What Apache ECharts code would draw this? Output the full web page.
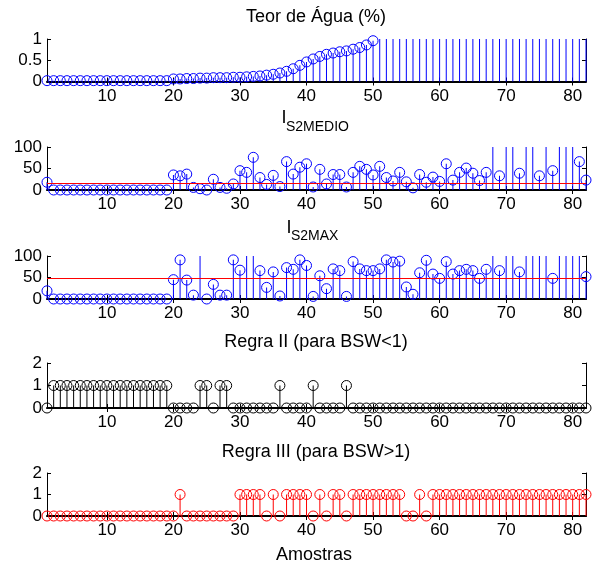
<!DOCTYPE html>
<html>
<head>
<meta charset="utf-8">
<script src="https://cdn.jsdelivr.net/npm/echarts@6/dist/echarts.min.js"></script>
<style>
  html, body { margin: 0; background: #fff; }
  #chart { width: 592px; height: 564px; }
</style>
</head>
<body>
<div id="chart"></div>
<script>
// amostras 1..82
var amostras = [];
for (var i = 1; i <= 82; i++) amostras.push(i);

var xTicks = [10, 20, 30, 40, 50, 60, 70, 80];

// Teor de Agua (%) - acima de 50 fora da escala
var teorAgua = [
  0.02, 0.02, 0.02, 0.02, 0.02, 0.02, 0.02, 0.02, 0.02, 0.02,
  0.02, 0.02, 0.02, 0.02, 0.02, 0.02, 0.02, 0.02, 0.02, 0.06,
  0.06, 0.07, 0.07, 0.08, 0.08, 0.09, 0.09, 0.09, 0.10, 0.10,
  0.11, 0.12, 0.13, 0.15, 0.17, 0.20, 0.24, 0.30, 0.38, 0.46,
  0.53, 0.59, 0.64, 0.67, 0.70, 0.72, 0.76, 0.80, 0.86, 0.96,
  2, 2, 2, 2, 2, 2, 2, 2, 2, 2,
  2, 2, 2, 2, 2, 2, 2, 2, 2, 2,
  2, 2, 2, 2, 2, 2, 2, 2, 2, 2,
  2, 2
];

var s2Medio = [
  18, 0, 0, 0, 0, 0, 0, 0, 0, 0,
  0, 0, 0, 0, 0, 0, 0, 0, 0, 35,
  33, 37, 6, 3, 0, 25, 6, 4, 14, 45,
  41, 76, 29, 13, 34, 8, 66, 37, 53, 61,
  7, 48, 14, 36, 36, 7, 41, 55, 48, 35,
  55, 29, 21, 41, 19, 5, 36, 18, 30, 20,
  61, 23, 41, 51, 39, 22, 41, 150, 33, 150,
  150, 39, 150, 150, 33, 150, 45, 150, 150, 150,
  66, 23
];
var limMedio = 15;

var s2Max = [
  19, 0, 0, 0, 0, 0, 0, 0, 0, 0,
  0, 0, 0, 0, 0, 0, 0, 0, 0, 45,
  91, 44, 9, 150, 0, 34, 9, 9, 91, 67,
  150, 150, 66, 27, 63, 7, 73, 69, 91, 78,
  6, 54, 24, 70, 66, 6, 87, 70, 66, 66,
  70, 91, 86, 88, 28, 11, 61, 90, 58, 48,
  87, 58, 66, 69, 66, 48, 69, 150, 66, 150,
  150, 63, 150, 150, 150, 150, 48, 150, 150, 150,
  150, 52
];
var limMax = 48;

var regra2 = [
  0, 1, 1, 1, 1, 1, 1, 1, 1, 1,
  1, 1, 1, 1, 1, 1, 1, 1, 1, 0,
  0, 0, 0, 1, 1, 0, 1, 1, 0, 0,
  0, 0, 0, 0, 0, 1, 0, 0, 0, 0,
  1, 0, 0, 0, 0, 1, 0, 0, 0, 0,
  0, 0, 0, 0, 0, 0, 0, 0, 0, 0,
  0, 0, 0, 0, 0, 0, 0, 0, 0, 0,
  0, 0, 0, 0, 0, 0, 0, 0, 0, 0,
  0, 0
];

var regra3 = [
  0, 0, 0, 0, 0, 0, 0, 0, 0, 0,
  0, 0, 0, 0, 0, 0, 0, 0, 0, 0,
  1, 0, 0, 0, 0, 0, 0, 0, 0, 1,
  1, 1, 1, 0, 1, 0, 1, 1, 1, 1,
  0, 1, 0, 1, 1, 0, 1, 1, 1, 1,
  1, 1, 1, 1, 0, 0, 1, 0, 1, 1,
  1, 1, 1, 1, 1, 1, 1, 1, 1, 1,
  1, 1, 1, 1, 1, 1, 1, 1, 1, 1,
  1, 1
];

var FONT = '"Liberation Sans", Arial, Helvetica, sans-serif';

var panels = [
  { y: teorAgua, max: 1, step: 0.5, color: '#0000ff', top: 39, h: 42.5, lim: null },
  { y: s2Medio, max: 100, step: 50, color: '#0000ff', top: 147, h: 43, lim: limMedio },
  { y: s2Max, max: 100, step: 50, color: '#0000ff', top: 256, h: 43, lim: limMax },
  { y: regra2, max: 2, step: 1, color: '#000000', top: 363, h: 45, lim: null },
  { y: regra3, max: 2, step: 1, color: '#ff0000', top: 473, h: 43, lim: null }
];

var grids = [], xAxes = [], yAxes = [], series = [];

panels.forEach(function (p, k) {
  grids.push({ left: 47, width: 539, top: p.top, height: p.h });

  // bottom and top x axes
  xAxes.push({
    type: 'value', gridIndex: k, min: 1, max: 82, position: 'bottom',
    axisLine: { onZero: false, lineStyle: { color: '#000', width: 2 } },
    axisTick: { inside: true, length: 4, customValues: xTicks, lineStyle: { color: '#000' } },
    axisLabel: { customValues: xTicks, color: '#000', fontSize: 17, fontFamily: FONT, margin: 6 },
    splitLine: { show: false }
  });
  xAxes.push({
    type: 'value', gridIndex: k, min: 1, max: 82, position: 'top',
    axisLine: { lineStyle: { color: '#000', width: 1 } },
    axisTick: { inside: true, length: 4, customValues: xTicks, lineStyle: { color: '#000' } },
    axisLabel: { show: false },
    splitLine: { show: false }
  });
  yAxes.push({
    type: 'value', gridIndex: k, min: 0, max: p.max, interval: p.step, position: 'left',
    axisLine: { show: true, onZero: false, lineStyle: { color: '#000' } },
    axisTick: { inside: true, length: 4, lineStyle: { color: '#000' } },
    axisLabel: { color: '#000', fontSize: 17, fontFamily: FONT, margin: 5 },
    splitLine: { show: false }
  });
  yAxes.push({
    type: 'value', gridIndex: k, min: 0, max: p.max, interval: p.step, position: 'right',
    axisLine: { show: true, onZero: false, lineStyle: { color: '#000' } },
    axisTick: { inside: true, length: 4, lineStyle: { color: '#000' } },
    axisLabel: { show: false },
    splitLine: { show: false }
  });

  var pts = amostras.map(function (x, j) { return [x, p.y[j]]; });

  // hastes
  series.push({
    type: 'bar', xAxisIndex: 2 * k, yAxisIndex: 2 * k,
    data: pts, barWidth: 1, clip: true, silent: true,
    itemStyle: { color: p.color }
  });
  // marcadores (fora da escala nao aparecem)
  var s = {
    type: 'scatter', xAxisIndex: 2 * k, yAxisIndex: 2 * k,
    data: pts.filter(function (d) { return d[1] <= p.max; }),
    symbol: 'circle', symbolSize: 10, clip: false, silent: true,
    itemStyle: { color: 'rgba(0,0,0,0)', borderColor: p.color, borderWidth: 1, opacity: 1 }
  };
  if (p.lim !== null) {
    s.markLine = {
      silent: true, symbol: ['none', 'none'], label: { show: false },
      lineStyle: { color: '#ff0000', type: 'solid', width: 1 },
      data: [{ yAxis: p.lim }]
    };
  }
  series.push(s);
});

function txt(t, x, y, size, align) {
  return {
    type: 'text', x: x, y: y, silent: true,
    style: { text: t, fill: '#000', font: size + 'px ' + FONT, align: align || 'center', verticalAlign: 'middle' }
  };
}

var chart = echarts.init(document.getElementById('chart'));
chart.setOption({
  animation: false,
  backgroundColor: '#fff',
  grid: grids,
  xAxis: xAxes,
  yAxis: yAxes,
  series: series,
  graphic: [
    txt('Teor de Água (%)', 316, 17, 18),
    txt('I', 281.5, 118, 18, 'left'),
    txt('S2MEDIO', 286, 127, 14, 'left'),
    txt('I', 286.5, 228, 18, 'left'),
    txt('S2MAX', 291, 236, 14, 'left'),
    txt('Regra II (para BSW<1)', 316, 342, 18),
    txt('Regra III (para BSW>1)', 316, 452, 18),
    txt('Amostras', 314, 555, 18)
  ]
});
</script>
</body>
</html>
